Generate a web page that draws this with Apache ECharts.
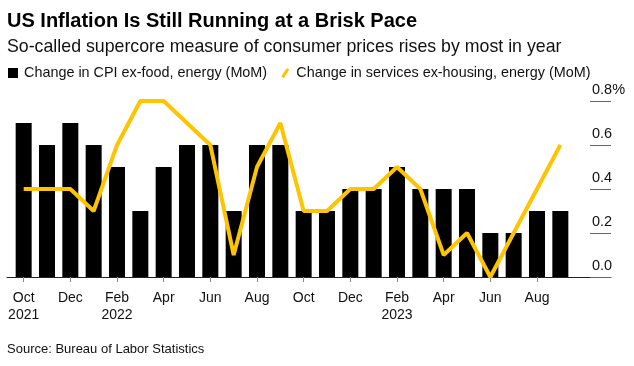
<!DOCTYPE html>
<html><head><meta charset="utf-8">
<script src="https://cdn.jsdelivr.net/npm/echarts@6/dist/echarts.min.js"></script>
<style>html,body{margin:0;padding:0;background:#fff}#c{width:634px;height:366px}</style>
</head><body><div id="c"></div>
<script>
const months = ["Oct","Nov","Dec","Jan","Feb","Mar","Apr","May","Jun","Jul","Aug","Sep",
                "Oct","Nov","Dec","Jan","Feb","Mar","Apr","May","Jun","Jul","Aug","Sep"];
const years = {0:"2021", 4:"2022", 16:"2023"};
const cpiCore = [0.7,0.6,0.7,0.6,0.5,0.3,0.5,0.6,0.6,0.3,0.6,0.6,
                 0.3,0.3,0.4,0.4,0.5,0.4,0.4,0.4,0.2,0.2,0.3,0.3];
const supercore = [0.4,0.4,0.4,0.3,0.6,0.8,0.8,0.7,0.6,0.1,0.5,0.7,
                   0.3,0.3,0.4,0.4,0.5,0.4,0.1,0.2,0.0,0.2,0.4,0.6];
const yTicks = [0, 0.2, 0.4, 0.6, 0.8];

const FONT = '"Liberation Sans",Arial,sans-serif';
const categories = months.map((m,i)=> years[i] ? m + "\n" + years[i] : m);
const chart = echarts.init(document.getElementById('c'), null, {renderer:'canvas'});
const TOP = 101, BOTTOM = 89;
chart.setOption({
  animation:false,
  title:[
    {text:"US Inflation Is Still Running at a Brisk Pace", left:2, top:6,
     textStyle:{fontFamily:FONT, fontWeight:'bold', fontSize:20, color:'#000'}},
    {text:"So-called supercore measure of consumer prices rises by most in year", left:2, top:33,
     textStyle:{fontFamily:FONT, fontWeight:'normal', fontSize:17.75, color:'#111'}},
    {text:"Source: Bureau of Labor Statistics", left:2, top:338,
     textStyle:{fontFamily:FONT, fontWeight:'normal', fontSize:13, color:'#111'}}
  ],
  legend:{
    left:3, top:61, itemGap:14, itemWidth:10, itemHeight:10,
    textStyle:{fontFamily:FONT, fontSize:14.4, color:'#111', padding:[0,0,0,1]},
    data:[
      {name:"Change in CPI ex-food, energy (MoM)", icon:'rect'},
      {name:"Change in services ex-housing, energy (MoM)", icon:'path://M0,10 L6.5,0 L9.5,1.6 L3,11.6 Z'}
    ]
  },
  grid:[
    {left:12, right:62, top:TOP, bottom:BOTTOM},
    {left:7, right:23, top:TOP, bottom:BOTTOM}
  ],
  xAxis:[
    {type:'category', gridIndex:0, data:categories, boundaryGap:true,
     axisLine:{show:false},
     axisTick:{show:true, alignWithLabel:true, interval:1, length:5, lineStyle:{color:'#888'}},
     axisLabel:{interval:1, fontFamily:FONT, fontSize:14, color:'#111', lineHeight:17.5, margin:12}},
    {type:'value', gridIndex:1, min:0, max:1,
     axisLine:{show:true, onZero:false, lineStyle:{color:'#222', width:1}},
     axisTick:{show:false}, axisLabel:{show:false}, splitLine:{show:false}}
  ],
  yAxis:[
    {type:'value', gridIndex:0, min:0, max:0.8, show:false, splitLine:{show:false}},
    {type:'value', gridIndex:1, min:0, max:0.8, interval:0.2, position:'right',
     axisLine:{show:false, onZero:false},
     axisTick:{show:true, inside:true, length:21, lineStyle:{color:'#666'}},
     splitLine:{show:false},
     axisLabel:{inside:true, align:'left', margin:19, verticalAlign:'bottom', padding:[0,0,4,0],
       fontFamily:FONT, fontSize:14.5, color:'#111',
       formatter:(v)=> { const s = v.toFixed(1); return Math.abs(v-0.8)<1e-9 ? s+'%' : s; }}}
  ],
  series:[
    {name:"Change in CPI ex-food, energy (MoM)", type:'bar', xAxisIndex:0, yAxisIndex:0,
     data:cpiCore, barWidth:16, itemStyle:{color:'#000'}},
    {name:"Change in services ex-housing, energy (MoM)", type:'line', xAxisIndex:0, yAxisIndex:0,
     data:supercore, symbol:'none', lineStyle:{color:'#FFC400', width:4},
     itemStyle:{color:'#FFC400'}}
  ]
});
</script></body></html>
